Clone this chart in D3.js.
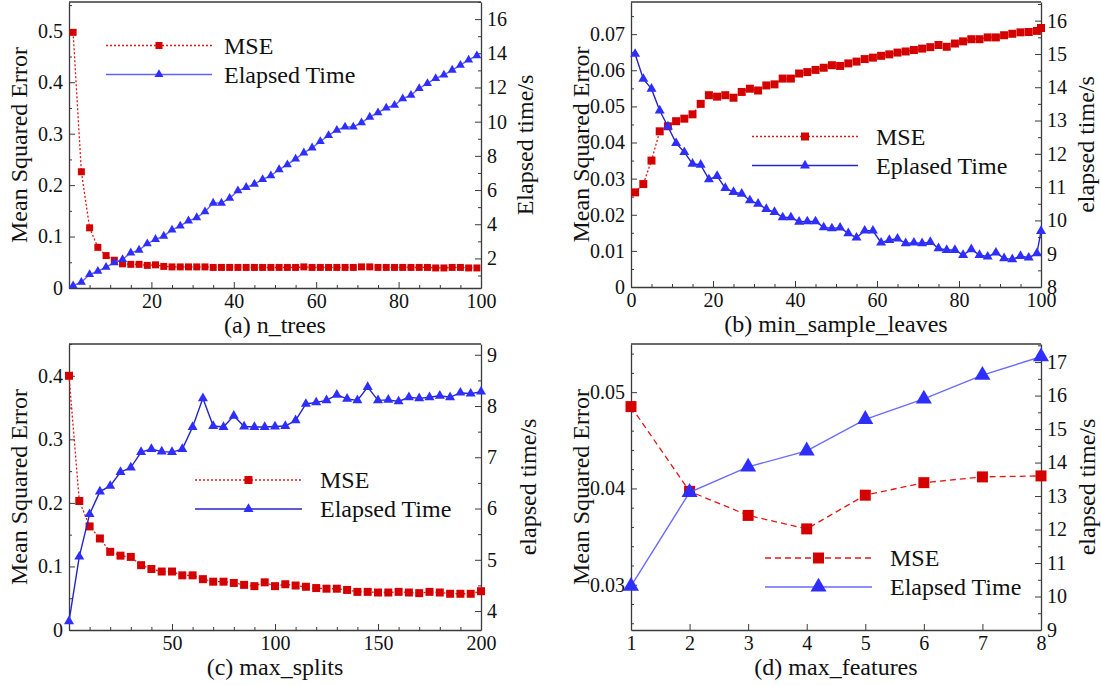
<!DOCTYPE html>
<html>
<head>
<meta charset="utf-8">
<script src="https://cdn.jsdelivr.net/npm/d3@7"></script>
<style>
	body { margin: 0; background: #fff; }
	svg text { font-family: "Liberation Serif", "Times New Roman", "DejaVu Serif", serif; fill: #111; }
</style>
</head>
<body>
<div id="chart"></div>
<script>
// ---- (a) n_trees ----
var aX = [1,3,5,7,9,11,13,15,17,19,21,23,25,27,29,31,33,35,37,39,41,43,45,47,49,
	51,53,55,57,59,61,63,65,67,69,71,73,75,77,79,81,83,85,87,89,91,93,95,97,99];
var aMSE = [0.497,0.226,0.117,0.079,0.063,0.054,0.047,0.046,0.046,0.044,0.045,0.042,0.041,0.041,0.041,
	0.041,0.041,0.040,0.040,0.040,0.040,0.040,0.040,0.040,0.040,0.040,0.040,0.040,0.041,0.040,
	0.040,0.040,0.040,0.040,0.040,0.041,0.041,0.040,0.040,0.040,0.040,0.040,0.040,0.040,0.039,
	0.039,0.040,0.040,0.039,0.039];
var aTime = [0.41,0.61,1.06,1.25,1.49,1.75,1.94,2.33,2.49,2.86,3.12,3.31,3.67,3.90,4.20,4.39,4.73,
	5.24,5.24,5.53,5.96,6.16,6.35,6.62,6.84,7.20,7.49,7.82,8.18,8.47,8.84,9.20,9.50,9.69,9.69,
	9.94,10.27,10.53,10.80,10.96,11.35,11.55,11.94,12.24,12.53,12.73,13.02,13.31,13.61,13.86];

// ---- (b) min_sample_leaves ----
var bX = [1,3,5,7,9,11,13,15,17,19,21,23,25,27,29,31,33,35,37,39,41,43,45,47,49,
	51,53,55,57,59,61,63,65,67,69,71,73,75,77,79,81,83,85,87,89,91,93,95,97,99,100];
var bMSE = [0.0262,0.0285,0.0350,0.0431,0.0445,0.0459,0.0466,0.0478,0.0507,0.0531,0.0527,0.0531,
	0.0524,0.0540,0.0549,0.0544,0.0558,0.0561,0.0577,0.0577,0.0591,0.0595,0.0601,0.0607,0.0614,
	0.0612,0.0619,0.0624,0.0631,0.0635,0.0640,0.0644,0.0649,0.0652,0.0656,0.0660,0.0664,0.0670,
	0.0665,0.0674,0.0680,0.0686,0.0686,0.0691,0.0691,0.0697,0.0701,0.0705,0.0706,0.0709,0.0717];
var bTime = [15.0,14.25,13.95,13.3,12.82,12.32,12.05,11.7,11.67,11.23,11.33,10.97,10.85,10.8,10.6,
	10.5,10.34,10.25,10.09,10.09,9.96,9.97,9.97,9.79,9.76,9.78,9.61,9.48,9.69,9.69,9.33,9.41,
	9.45,9.31,9.33,9.31,9.35,9.16,9.11,9.11,8.96,9.13,8.96,8.91,9.03,8.86,8.83,8.93,8.88,9.01,9.68];

// ---- (c) max_splits ----
var cX = [0,5,10,15,20,25,30,35,40,45,50,55,60,65,70,75,80,85,90,95,100,
	105,110,115,120,125,130,135,140,145,150,155,160,165,170,175,180,185,190,195,200];
var cMSE = [0.400,0.203,0.163,0.144,0.123,0.117,0.115,0.102,0.096,0.092,0.092,0.086,0.086,0.080,
	0.076,0.076,0.074,0.071,0.069,0.075,0.069,0.072,0.070,0.068,0.066,0.065,0.065,0.063,0.060,
	0.060,0.059,0.059,0.060,0.059,0.058,0.060,0.059,0.057,0.057,0.057,0.061];
var cTime = [3.80,5.06,5.89,6.33,6.44,6.71,6.80,7.10,7.16,7.11,7.10,7.16,7.59,8.15,7.61,7.59,7.81,
	7.60,7.59,7.59,7.60,7.61,7.72,8.04,8.07,8.11,8.22,8.14,8.11,8.37,8.11,8.12,8.09,8.17,8.15,
	8.17,8.20,8.17,8.26,8.24,8.28];

// ---- (d) max_features ----
var dX = [1,2,3,4,5,6,7,8];
var dMSE = [0.0485,0.0397,0.0372,0.0358,0.0393,0.0406,0.0412,0.0413];
var dTime = [10.31,13.11,13.87,14.35,15.29,15.90,16.61,17.16];

// tick labels
var aXTicks = [20,40,60,80,100], bXTicks = [0,20,40,60,80,100], cXTicks = [50,100,150,200], dXTicks = [1,2,3,4,5,6,7,8];
var aLTicks = [0,0.1,0.2,0.3,0.4,0.5], bLTicks = [0,0.01,0.02,0.03,0.04,0.05,0.06,0.07];
var cLTicks = [0,0.1,0.2,0.3,0.4], dLTicks = [0.03,0.04,0.05];
var aRTicks = [2,4,6,8,10,12,14,16], bRTicks = [8,9,10,11,12,13,14,15,16];
var cRTicks = [4,5,6,7,8,9], dRTicks = [9,10,11,12,13,14,15,16,17];

var FONT = '"Liberation Serif","Times New Roman","DejaVu Serif",serif';

var svg = d3.select("#chart").append("svg")
	.attr("width", 1101)
	.attr("height", 685)
	.attr("font-family", FONT);

var red = "#d40000", redLine = "#e01818", blue = "#2e2eff";
var axisCol = "#3a3a3a";

function minorTicks(dom, step, major) {
	var out = [];
	var start = Math.ceil(dom[0] / step - 1e-9) * step;
	for (var v = start; v <= dom[1] + 1e-9; v += step) {
		var r = Math.round(v * 1e6) / 1e6;
		if (!major.some(function(m){ return Math.abs(m - r) < 1e-9; })) out.push(r);
	}
	return out;
}

function styleAxis(g) {
	g.attr("font-family", FONT);
	g.select(".domain").attr("stroke", axisCol).attr("stroke-width", 1.3);
	g.selectAll(".tick line").attr("stroke", axisCol).attr("stroke-width", 1);
	g.selectAll(".tick text").attr("font-size", "20px").attr("fill", "#111");
}

function drawPanel(p) {
	var x = d3.scaleLinear().domain(p.xDom).range([p.left, p.right]);
	var yL = d3.scaleLinear().domain(p.lDom).range([p.bottom, p.top]);
	var yR = d3.scaleLinear().domain(p.rDom).range([p.bottom, p.top]);

	// top border
	svg.append("line")
		.attr("x1", p.left).attr("x2", p.right)
		.attr("y1", p.top).attr("y2", p.top)
		.attr("stroke", axisCol).attr("stroke-width", 1.3);

	// minor ticks
	if (p.xMinor) {
		svg.append("g").attr("transform", "translate(0," + p.bottom + ")")
			.call(d3.axisBottom(x).tickValues(minorTicks(p.xDom, p.xMinor, p.xTicks)).tickSize(-3).tickFormat(""))
			.call(function(g){ g.select(".domain").remove(); styleAxis(g); });
	}
	svg.append("g").attr("transform", "translate(" + p.left + ",0)")
		.call(d3.axisLeft(yL).tickValues(minorTicks(p.lDom, p.lMinor, p.lTicks)).tickSize(-3).tickFormat(""))
		.call(function(g){ g.select(".domain").remove(); styleAxis(g); });
	svg.append("g").attr("transform", "translate(" + p.right + ",0)")
		.call(d3.axisRight(yR).tickValues(minorTicks(p.rDom, p.rMinor, p.rTicks)).tickSize(-3).tickFormat(""))
		.call(function(g){ g.select(".domain").remove(); styleAxis(g); });

	// major axes
	svg.append("g").attr("transform", "translate(0," + p.bottom + ")")
		.call(d3.axisBottom(x).tickValues(p.xTicks).tickSize(-6).tickSizeOuter(0).tickPadding(6).tickFormat(d3.format("d")))
		.call(styleAxis);
	svg.append("g").attr("transform", "translate(" + p.left + ",0)")
		.call(d3.axisLeft(yL).tickValues(p.lTicks).tickSize(-6).tickSizeOuter(0).tickPadding(6).tickFormat(p.lFmt))
		.call(styleAxis);
	svg.append("g").attr("transform", "translate(" + p.right + ",0)")
		.call(d3.axisRight(yR).tickValues(p.rTicks).tickSize(-6).tickSizeOuter(0).tickPadding(6).tickFormat(d3.format("d")))
		.call(styleAxis);

	// titles
	var midY = (p.top + p.bottom) / 2;
	svg.append("text")
		.attr("transform", "translate(" + (p.left - 50) + "," + midY + ") rotate(-90)")
		.attr("text-anchor", "middle").attr("dominant-baseline", "central")
		.attr("font-size", "24px").text("Mean Squared Error");
	svg.append("text")
		.attr("transform", "translate(" + (p.right + p.rTitleOff) + "," + midY + ") rotate(-90)")
		.attr("text-anchor", "middle").attr("dominant-baseline", "central")
		.attr("font-size", "24px").text(p.rTitle);
	svg.append("text")
		.attr("x", (p.left + p.right) / 2).attr("y", p.bottom + 37)
		.attr("text-anchor", "middle").attr("dominant-baseline", "central")
		.attr("font-size", "24px").text(p.xTitle);

	var mse = d3.zip(p.xs, p.mse), time = d3.zip(p.xs, p.time);
	var sq = d3.symbol().type(d3.symbolSquare).size(p.sq * p.sq);
	var tri = d3.symbol().type(d3.symbolTriangle).size(p.tri * p.tri * Math.sqrt(3) / 4);

	// MSE series
	svg.append("path").datum(mse)
		.attr("fill", "none").attr("stroke", redLine).attr("stroke-width", 1.3)
		.attr("stroke-dasharray", p.dash)
		.attr("d", d3.line().x(function(d){ return x(d[0]); }).y(function(d){ return yL(d[1]); }));
	svg.append("g").selectAll("path").data(mse).enter().append("path")
		.attr("transform", function(d){ return "translate(" + x(d[0]) + "," + yL(d[1]) + ")"; })
		.attr("d", sq).attr("fill", red);

	// elapsed time series
	svg.append("path").datum(time)
		.attr("fill", "none").attr("stroke", p.blueLine).attr("stroke-width", 1.4)
		.attr("d", d3.line().x(function(d){ return x(d[0]); }).y(function(d){ return yR(d[1]); }));
	svg.append("g").selectAll("path").data(time).enter().append("path")
		.attr("transform", function(d){ return "translate(" + x(d[0]) + "," + yR(d[1]) + ")"; })
		.attr("d", tri).attr("fill", blue);

	// legend
	var lg = p.legend, mx = (lg.x1 + lg.x2) / 2;
	svg.append("line").attr("x1", lg.x1).attr("x2", lg.x2).attr("y1", lg.y1).attr("y2", lg.y1)
		.attr("stroke", redLine).attr("stroke-width", 1.3).attr("stroke-dasharray", p.dash);
	svg.append("path").attr("transform", "translate(" + mx + "," + lg.y1 + ")").attr("d", sq).attr("fill", red);
	svg.append("line").attr("x1", lg.x1).attr("x2", lg.x2).attr("y1", lg.y2).attr("y2", lg.y2)
		.attr("stroke", p.blueLine).attr("stroke-width", 1.4);
	svg.append("path").attr("transform", "translate(" + mx + "," + lg.y2 + ")").attr("d", tri).attr("fill", blue);
	svg.append("text").attr("x", lg.tx).attr("y", lg.y1).attr("dominant-baseline", "central")
		.attr("font-size", "24px").text("MSE");
	svg.append("text").attr("x", lg.tx).attr("y", lg.y2).attr("dominant-baseline", "central")
		.attr("font-size", "24px").text(lg.t2);
}

var f1 = function(v){ return v === 0 ? "0" : d3.format(".1f")(v); };
var f2 = function(v){ return v === 0 ? "0" : d3.format(".2f")(v); };

drawPanel({
	left: 69, right: 481, top: 2, bottom: 288,
	xDom: [0, 100], lDom: [0, 0.556], rDom: [0.27, 17.0],
	xTicks: aXTicks, xMinor: 5, lTicks: aLTicks, lMinor: 0.05, rTicks: aRTicks, rMinor: 1,
	lFmt: f1, rTitle: "Elapsed time/s", rTitleOff: 44, xTitle: "(a) n_trees",
	xs: aX, mse: aMSE, time: aTime, sq: 7, tri: 9, dash: "2,2", blueLine: "#6262ff",
	legend: { x1: 106, x2: 212, y1: 45.5, y2: 74.5, tx: 224, t2: "Elapsed Time" }
});
drawPanel({
	left: 631, right: 1041, top: 2, bottom: 287,
	xDom: [0, 100], lDom: [0, 0.0789], rDom: [8, 16.56],
	xTicks: bXTicks, xMinor: 5, lTicks: bLTicks, lMinor: 0.005, rTicks: bRTicks, rMinor: 0.5,
	lFmt: f2, rTitle: "elapsed time/s", rTitleOff: 45, xTitle: "(b) min_sample_leaves",
	xs: bX, mse: bMSE, time: bTime, sq: 8, tri: 10, dash: "2,2", blueLine: "#2424c8",
	legend: { x1: 752, x2: 858, y1: 136.5, y2: 165.5, tx: 876, t2: "Eplased Time" }
});
drawPanel({
	left: 69, right: 481, top: 344, bottom: 630,
	xDom: [0, 200], lDom: [0, 0.45], rDom: [3.63, 9.21],
	xTicks: cXTicks, xMinor: 10, lTicks: cLTicks, lMinor: 0.05, rTicks: cRTicks, rMinor: 0.5,
	lFmt: f1, rTitle: "elapsed time/s", rTitleOff: 47, xTitle: "(c) max_splits",
	xs: cX, mse: cMSE, time: cTime, sq: 8, tri: 10, dash: "2,2", blueLine: "#2424c8",
	legend: { x1: 195, x2: 302, y1: 480, y2: 509, tx: 320, t2: "Elapsed Time" }
});
drawPanel({
	left: 631, right: 1041, top: 344, bottom: 630,
	xDom: [1, 8], lDom: [0.0253, 0.055], rDom: [9, 17.54],
	xTicks: dXTicks, xMinor: null, lTicks: dLTicks, lMinor: 0.002, rTicks: dRTicks, rMinor: 0.5,
	lFmt: f2, rTitle: "elapsed time/s", rTitleOff: 46, xTitle: "(d) max_features",
	xs: dX, mse: dMSE, time: dTime, sq: 11, tri: 16, dash: "6,4", blueLine: "#6a6aff",
	legend: { x1: 765, x2: 872, y1: 558, y2: 587, tx: 890, t2: "Elapsed Time" }
});
</script>
</body>
</html>
